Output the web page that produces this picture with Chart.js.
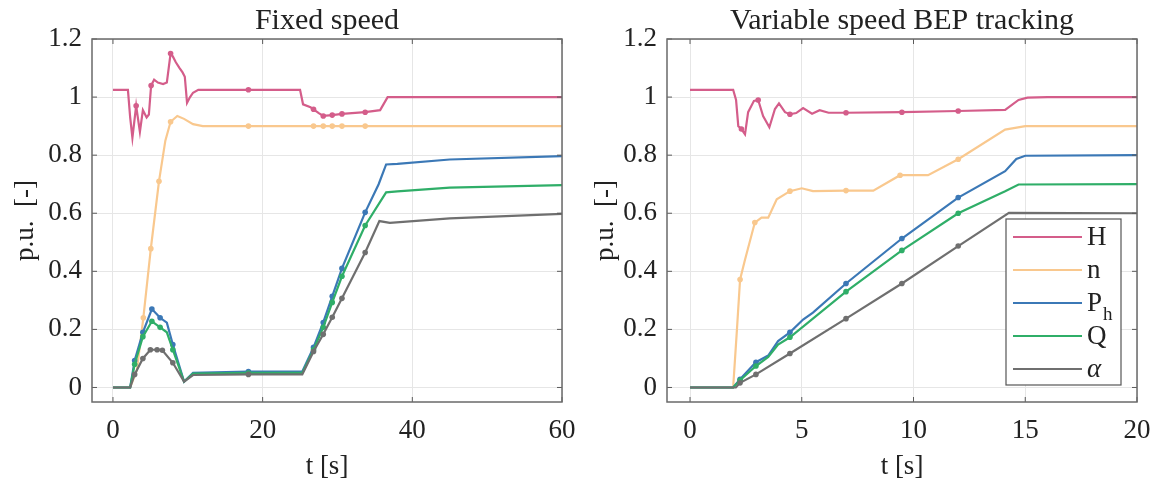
<!DOCTYPE html>
<html>
<head>
<meta charset="utf-8">
<script src="https://cdn.jsdelivr.net/npm/chart.js@4.4.0/dist/chart.umd.min.js"></script>
<style>
  body { margin: 0; background: #fff; }
  #izq { position: absolute; left: 0; top: 0; }
  #der { position: absolute; left: 580px; top: 0; }
</style>
</head>
<body>
<canvas id="izq" width="580" height="483"></canvas>
<canvas id="der" width="579" height="483"></canvas>
<script>
// ---- ticks ----
const ticksY = [0, 0.2, 0.4, 0.6, 0.8, 1, 1.2];
const ticksXFijo = [0, 20, 40, 60];
const ticksXVar = [0, 5, 10, 15, 20];

// ---- Fixed speed ----
const tH_fijo = [0, 2.0, 2.3, 2.6, 3.1, 3.6, 4.0, 4.5, 4.8, 5.1, 5.5, 6.0, 6.7, 7.2, 7.7, 8.0, 8.4, 8.9, 9.3, 9.6, 9.9, 10.3, 10.7, 11.4, 18.1, 25.0, 25.4, 26.4, 26.8, 27.5, 28.1, 29.3, 30.6, 33.7, 35.7, 36.7, 37.4, 60];
const H_fijo  = [1.025, 1.025, 0.93, 0.86, 0.97, 0.88, 0.955, 0.93, 0.94, 1.04, 1.06, 1.05, 1.045, 1.05, 1.15, 1.14, 1.12, 1.10, 1.085, 1.07, 0.98, 1.0, 1.015, 1.025, 1.025, 1.025, 0.975, 0.965, 0.958, 0.945, 0.935, 0.938, 0.942, 0.948, 0.955, 1.0, 1.0, 1.0];
const mH_fijo = [3.1, 5.1, 7.7, 18.1, 26.8, 28.1, 29.3, 30.6, 33.7];

const tN_fijo = [0, 2.3, 3.2, 4.06, 5.06, 6.15, 7.0, 7.7, 8.6, 9.5, 10.7, 12, 18.1, 26.8, 28.1, 29.3, 30.6, 33.7, 60];
const N_fijo  = [0, 0, 0.06, 0.24, 0.478, 0.71, 0.85, 0.915, 0.935, 0.925, 0.907, 0.9, 0.9, 0.9, 0.9, 0.9, 0.9, 0.9, 0.9];
const mN_fijo = [4.06, 5.06, 6.15, 7.7, 18.1, 26.8, 28.1, 29.3, 30.6, 33.7];

const tP_fijo = [0, 2.3, 2.9, 4.0, 5.2, 6.3, 7.2, 8.0, 9.5, 10.7, 18.1, 25.3, 26.8, 28.1, 29.3, 30.6, 33.7, 35.5, 36.5, 38, 45, 60];
const P_fijo  = [0, 0, 0.093, 0.19, 0.27, 0.24, 0.223, 0.148, 0.02, 0.05, 0.055, 0.055, 0.138, 0.224, 0.314, 0.41, 0.603, 0.70, 0.768, 0.77, 0.785, 0.797];
const mP_fijo = [2.9, 4.0, 5.2, 6.3, 8.0, 18.1, 26.8, 28.1, 29.3, 30.6, 33.7];

const tQ_fijo = [0, 2.3, 2.9, 4.0, 5.2, 6.3, 7.2, 8.0, 9.5, 10.7, 18.1, 25.3, 26.8, 28.1, 29.3, 30.6, 33.7, 36.5, 38, 45, 60];
const Q_fijo  = [0, 0, 0.08, 0.175, 0.228, 0.207, 0.19, 0.13, 0.02, 0.048, 0.05, 0.05, 0.13, 0.207, 0.293, 0.383, 0.558, 0.672, 0.675, 0.688, 0.697];
const mQ_fijo = [2.9, 4.0, 5.2, 6.3, 8.0, 18.1, 26.8, 28.1, 29.3, 30.6, 33.7];

const tA_fijo = [0, 2.3, 2.9, 4.0, 5.0, 5.9, 6.6, 8.0, 9.5, 10.7, 18.1, 25.3, 26.8, 28.1, 29.3, 30.6, 33.7, 35.6, 37, 45, 60];
const A_fijo  = [0, 0, 0.045, 0.1, 0.13, 0.13, 0.128, 0.085, 0.02, 0.043, 0.045, 0.045, 0.124, 0.183, 0.242, 0.307, 0.465, 0.573, 0.567, 0.582, 0.598];
const mA_fijo = [2.9, 4.0, 5.0, 5.9, 6.6, 8.0, 18.1, 26.8, 28.1, 29.3, 30.6, 33.7];

// ---- Variable speed BEP tracking ----
const tH_var = [0, 1.93, 2.06, 2.16, 2.3, 2.46, 2.6, 2.86, 3.05, 3.27, 3.55, 3.8, 3.98, 4.25, 4.47, 4.75, 5.06, 5.46, 5.8, 6.2, 6.98, 9.48, 12.0, 14.1, 14.7, 15.1, 16, 20];
const H_var  = [1.025, 1.025, 0.99, 0.9, 0.89, 0.872, 0.948, 0.987, 0.99, 0.935, 0.896, 0.959, 0.978, 0.948, 0.941, 0.945, 0.962, 0.943, 0.955, 0.946, 0.946, 0.948, 0.952, 0.956, 0.99, 0.998, 1.0, 1.0];
const mH_var = [2.3, 3.05, 4.47, 6.98, 9.48, 12.0];

const tN_var = [0, 1.93, 2.1, 2.24, 2.46, 2.9, 3.2, 3.5, 3.88, 4.47, 5.0, 5.5, 6.98, 8.2, 9.4, 10.65, 12.0, 14.1, 15.0, 20];
const N_var  = [0, 0, 0.2, 0.372, 0.44, 0.568, 0.585, 0.585, 0.648, 0.676, 0.686, 0.676, 0.678, 0.678, 0.731, 0.731, 0.786, 0.888, 0.9, 0.9];
const mN_var = [2.24, 2.9, 4.47, 6.98, 9.4, 12.0];

const tP_var = [0, 1.93, 2.24, 2.95, 3.5, 3.94, 4.47, 5.06, 5.5, 6.98, 9.48, 12.0, 14.1, 14.6, 15.0, 20];
const P_var  = [0, 0, 0.028, 0.087, 0.11, 0.16, 0.19, 0.234, 0.258, 0.358, 0.513, 0.654, 0.745, 0.787, 0.798, 0.8];
const mP_var = [2.24, 2.95, 4.47, 6.98, 9.48, 12.0];

const tQ_var = [0, 1.93, 2.24, 2.95, 3.5, 3.94, 4.47, 6.98, 9.48, 12.0, 14.1, 14.7, 20];
const Q_var  = [0, 0, 0.025, 0.074, 0.105, 0.148, 0.173, 0.33, 0.472, 0.6, 0.676, 0.699, 0.7];
const mQ_var = [2.24, 2.95, 4.47, 6.98, 9.48, 12.0];

const tA_var = [0, 2.05, 2.24, 2.95, 4.47, 6.98, 9.48, 12.0, 14.27, 20];
const A_var  = [0, 0, 0.016, 0.045, 0.117, 0.237, 0.358, 0.487, 0.601, 0.6];
const mA_var = [2.24, 2.95, 4.47, 6.98, 9.48, 12.0];

const colores = { H: '#d45d8a', n: '#f9c88e', Ph: '#3b78b6', Q: '#2fae68', a: '#6f6f6f' };
const fuente = 'Liberation Serif, Times New Roman, serif';

function serie(label, t, v, color, marcas) {
    return {
        label: label,
        data: t.map((x, i) => ({ x: x, y: v[i] })),
        borderColor: color,
        backgroundColor: color,
        borderWidth: 2.2,
        pointRadius: ctx => (ctx.raw && marcas.includes(ctx.raw.x)) ? 2.8 : 0,
        pointBorderWidth: 0,
        pointHoverRadius: 0,
        tension: 0,
        fill: false
    };
}

// marco y marcas de tick hacia dentro (estilo MATLAB)
const marco = {
    id: 'marco',
    afterDatasetsDraw(chart) {
        const { ctx, chartArea: a, scales } = chart;
        ctx.save();
        ctx.strokeStyle = '#5a5a5a';
        ctx.lineWidth = 1;
        scales.x.ticks.forEach(tk => {
            const px = scales.x.getPixelForValue(tk.value);
            ctx.beginPath();
            ctx.moveTo(px, a.bottom); ctx.lineTo(px, a.bottom - 5);
            ctx.moveTo(px, a.top); ctx.lineTo(px, a.top + 5);
            ctx.stroke();
        });
        scales.y.ticks.forEach(tk => {
            const py = scales.y.getPixelForValue(tk.value);
            ctx.beginPath();
            ctx.moveTo(a.left, py); ctx.lineTo(a.left + 5, py);
            ctx.moveTo(a.right, py); ctx.lineTo(a.right - 5, py);
            ctx.stroke();
        });
        ctx.lineWidth = 1.5;
        ctx.strokeStyle = '#6a6a6a';
        ctx.strokeRect(a.left, a.top, a.right - a.left, a.bottom - a.top);
        ctx.restore();
    }
};

// titulo centrado sobre el area de trazado
const titulo = {
    id: 'titulo',
    afterDraw(chart, args, opts) {
        const { ctx, chartArea: a } = chart;
        ctx.save();
        ctx.fillStyle = '#222';
        ctx.font = '30px ' + fuente;
        ctx.textAlign = 'center';
        ctx.textBaseline = 'alphabetic';
        ctx.fillText(opts.text, (a.left + a.right) / 2, 29);
        ctx.restore();
    }
};

// leyenda dentro del area del grafico
const leyenda = {
    id: 'leyenda',
    afterDraw(chart) {
        const { ctx, chartArea: a } = chart;
        const x0 = a.left + 339, y0 = 219, w = 115, h = 166;
        ctx.save();
        ctx.fillStyle = '#fff';
        ctx.fillRect(x0, y0, w, h);
        ctx.strokeStyle = '#555';
        ctx.lineWidth = 1.2;
        ctx.strokeRect(x0, y0, w, h);
        const items = [['H', colores.H], ['n', colores.n], ['P', colores.Ph], ['Q', colores.Q], ['α', colores.a]];
        ctx.textBaseline = 'middle';
        items.forEach((it, i) => {
            const y = y0 + 18 + i * 33;
            ctx.strokeStyle = it[1];
            ctx.lineWidth = 2.2;
            ctx.beginPath();
            ctx.moveTo(x0 + 7, y); ctx.lineTo(x0 + 76, y);
            ctx.stroke();
            ctx.fillStyle = '#222';
            ctx.font = (i === 4 ? 'italic ' : '') + '27px ' + fuente;
            ctx.fillText(it[0], x0 + 81, y + 1);
            if (i === 2) {
                const wP = ctx.measureText('P').width;
                ctx.font = '19px ' + fuente;
                ctx.fillText('h', x0 + 81 + wP + 1, y + 12);
            }
        });
        ctx.restore();
    }
};

function crearGrafica(id, textoTitulo, datasets, xMin, xMax, ticksX, padDer, anchoY, plugins) {
    const ctx = document.getElementById(id).getContext('2d');
    return new Chart(ctx, {
        type: 'line',
        data: { datasets: datasets },
        options: {
            responsive: false,
            animation: false,
            events: [],
            layout: { padding: { left: 0, right: padDer, top: 39, bottom: 0 } },
            plugins: {
                legend: { display: false },
                tooltip: { enabled: false },
                title: { display: false },
                titulo: { text: textoTitulo }
            },
            scales: {
                x: {
                    type: 'linear',
                    min: xMin,
                    max: xMax,
                    afterBuildTicks: ax => { ax.ticks = ticksX.map(v => ({ value: v })); },
                    afterFit: ax => {
                        ax.height = 81;
                        ax.paddingLeft = 0;
                        ax.paddingRight = 0;
                    },
                    grid: { color: '#e6e6e6', drawTicks: false },
                    border: { display: false },
                    ticks: {
                        color: '#222',
                        padding: 13,
                        maxRotation: 0,
                        font: { family: fuente, size: 27 },
                        callback: v => String(v)
                    },
                    title: {
                        display: true,
                        text: 't [s]',
                        color: '#222',
                        font: { family: fuente, size: 27 },
                        padding: { top: 0, bottom: 0 }
                    }
                },
                y: {
                    min: -0.05,
                    max: 1.2,
                    afterBuildTicks: ax => { ax.ticks = ticksY.map(v => ({ value: v })); },
                    afterFit: ax => { ax.width = anchoY; },
                    grid: { color: '#e6e6e6', drawTicks: false },
                    border: { display: false },
                    ticks: {
                        color: '#222',
                        padding: 10,
                        font: { family: fuente, size: 27 },
                        callback: v => String(parseFloat(v.toFixed(2)))
                    },
                    title: {
                        display: true,
                        text: 'p.u.  [-]',
                        color: '#222',
                        font: { family: fuente, size: 27 },
                        padding: { top: 10, bottom: 0 }
                    }
                }
            }
        },
        plugins: plugins
    });
}

crearGrafica('izq', 'Fixed speed', [
    serie('α', tA_fijo, A_fijo, colores.a, mA_fijo),
    serie('Q', tQ_fijo, Q_fijo, colores.Q, mQ_fijo),
    serie('Ph', tP_fijo, P_fijo, colores.Ph, mP_fijo),
    serie('n', tN_fijo, N_fijo, colores.n, mN_fijo),
    serie('H', tH_fijo, H_fijo, colores.H, mH_fijo)
], -2.8, 60, ticksXFijo, 18, 92, [marco, titulo]);

crearGrafica('der', 'Variable speed BEP tracking', [
    serie('α', tA_var, A_var, colores.a, mA_var),
    serie('Q', tQ_var, Q_var, colores.Q, mQ_var),
    serie('Ph', tP_var, P_var, colores.Ph, mP_var),
    serie('n', tN_var, N_var, colores.n, mN_var),
    serie('H', tH_var, H_var, colores.H, mH_var)
], -1.03, 20, ticksXVar, 22, 87, [marco, titulo, leyenda]);
</script>
</body>
</html>
